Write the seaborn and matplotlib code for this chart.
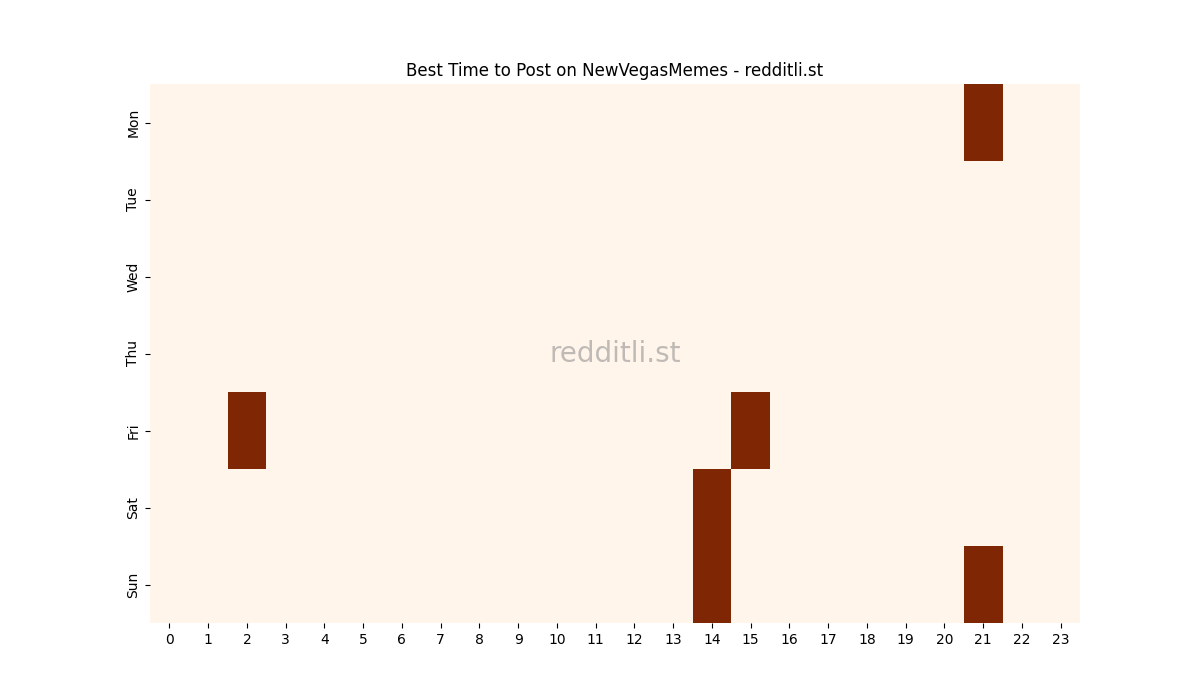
import numpy as np
import pandas as pd
import matplotlib
matplotlib.use("Agg")
import matplotlib.pyplot as plt
import seaborn as sns

DAYS = ["Mon", "Tue", "Wed", "Thu", "Fri", "Sat", "Sun"]
HOURS = list(range(24))

# (day, hour) cells that stand out as best posting times
HOT_CELLS = [("Mon", 21), ("Fri", 2), ("Fri", 15), ("Sat", 14), ("Sun", 14), ("Sun", 21)]
HOT_VALUE = 1
BASE_VALUE = 0

grid = pd.DataFrame(BASE_VALUE, index=DAYS, columns=HOURS)
for day, hour in HOT_CELLS:
    grid.loc[day, hour] = HOT_VALUE

fig, ax = plt.subplots(figsize=(12, 7), dpi=100)
sns.heatmap(grid, cmap="Oranges", cbar=False, ax=ax)
ax.set_title("Best Time to Post on NewVegasMemes - redditli.st")
ax.text(0.5, 0.5, "redditli.st", transform=ax.transAxes, ha="center", va="center",
        fontsize=20, color="gray", alpha=0.5)

plt.savefig("out.png")
plt.close()
